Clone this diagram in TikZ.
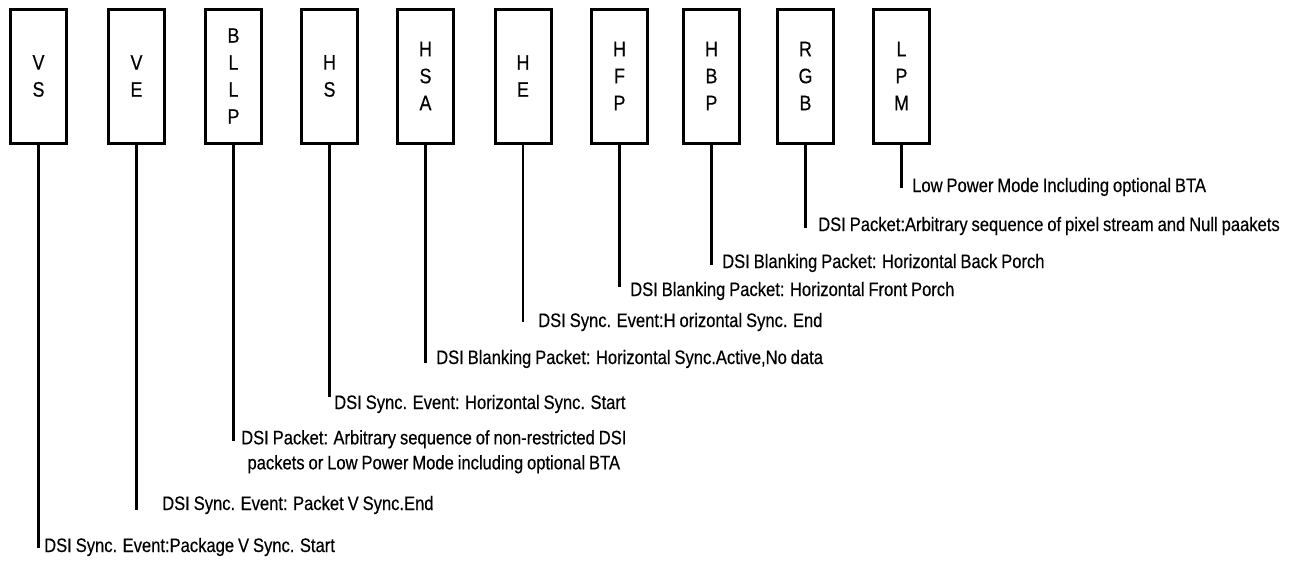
\documentclass[tikz,border=0pt]{standalone}
\usepackage{fontspec}
\setmainfont[FakeStretch=0.85,WordSpace=0.85,FakeBold=0.4]{Liberation Sans}
\usepackage{tikz}
\usetikzlibrary{shapes,arrows,positioning,calc}

\tikzset{
  fieldbox/.style={draw,line width=3pt,minimum width=56pt,minimum height=134pt,
    inner sep=0pt,align=center,font=\fontsize{21}{27}\selectfont},
  desc/.style={inner sep=0pt,anchor=base west,font=\fontsize{19.5}{25}\selectfont},
  stem/.style={line width=2.8pt}
}

\begin{document}
\begin{tikzpicture}[x=1pt,y=-1pt]
      \useasboundingbox (0,0) rectangle (1298,560);
      \node[fieldbox] at (38.5,76)(vs){V\\S};
      \node[fieldbox] at (136.5,76)(ve){V\\E};
      \node[fieldbox] at (233.5,76)(bllp){B\\L\\L\\P};
      \node[fieldbox] at (329.5,76)(hs){H\\S};
      \node[fieldbox] at (425.5,76)(hsa){H\\S\\A};
      \node[fieldbox] at (523,76)(he){H\\E};
      \node[fieldbox] at (619.5,76)(hfp){H\\F\\P};
      \node[fieldbox] at (711.5,76)(hbp){H\\B\\P};
      \node[fieldbox] at (805.5,76)(rgb){R\\G\\B};
      \node[fieldbox] at (901.5,76)(lpm){L\\P\\M};
      %
      \node[desc] at (912,192)(dlpm){Low Power Mode Including optional BTA};
      \node[desc] at (818,231)(drgb){DSI Packet:Arbitrary sequence of pixel stream and Null paakets};
      \node[desc] at (722,268)(dhbp){DSI Blanking Packet: Horizontal Back Porch};
      \node[desc] at (630,296)(dhfp){DSI Blanking Packet: Horizontal Front Porch};
      \node[desc] at (538,327)(dhe){DSI Sync. Event:H orizontal Sync. End};
      \node[desc] at (436,364)(dhsa){DSI Blanking Packet: Horizontal Sync.Active,No data};
      \node[desc] at (334,409)(dhs){DSI Sync. Event: Horizontal Sync. Start};
      \node[desc,anchor=north west,align=center] at (241,430)(dbllp){DSI Packet: Arbitrary sequence of non-restricted DSI\\packets or Low Power Mode including optional BTA};
      \node[desc] at (162,510)(dve){DSI Sync. Event: Packet V Sync.End};
      \node[desc] at (44,552)(dvs){DSI Sync. Event:Package V Sync. Start};
      %
      \coordinate (evs) at (38.5,548);
      \coordinate (eve) at (136.5,510);
      \coordinate (ebllp) at (233.5,441);
      \coordinate (ehs) at (329.5,397);
      \coordinate (ehsa) at (425.5,363);
      \coordinate (ehe) at (523,322);
      \coordinate (ehfp) at (619.5,287);
      \coordinate (ehbp) at (711.5,265);
      \coordinate (ergb) at (805.5,228);
      \coordinate (elpm) at (901.5,188);
      %
      \draw[stem] (vs.south) -- (evs);
      \draw[stem] (ve.south) -- (eve);
      \draw[stem] (bllp.south) -- (ebllp);
      \draw[stem] (hs.south) -- (ehs);
      \draw[stem] (hsa.south) -- (ehsa);
      \draw[stem] (he.south) -- (ehe);
      \draw[stem] (hfp.south) -- (ehfp);
      \draw[stem] (hbp.south) -- (ehbp);
      \draw[stem] (rgb.south) -- (ergb);
      \draw[stem] (lpm.south) -- (elpm);
    \end{tikzpicture}
\end{document}
